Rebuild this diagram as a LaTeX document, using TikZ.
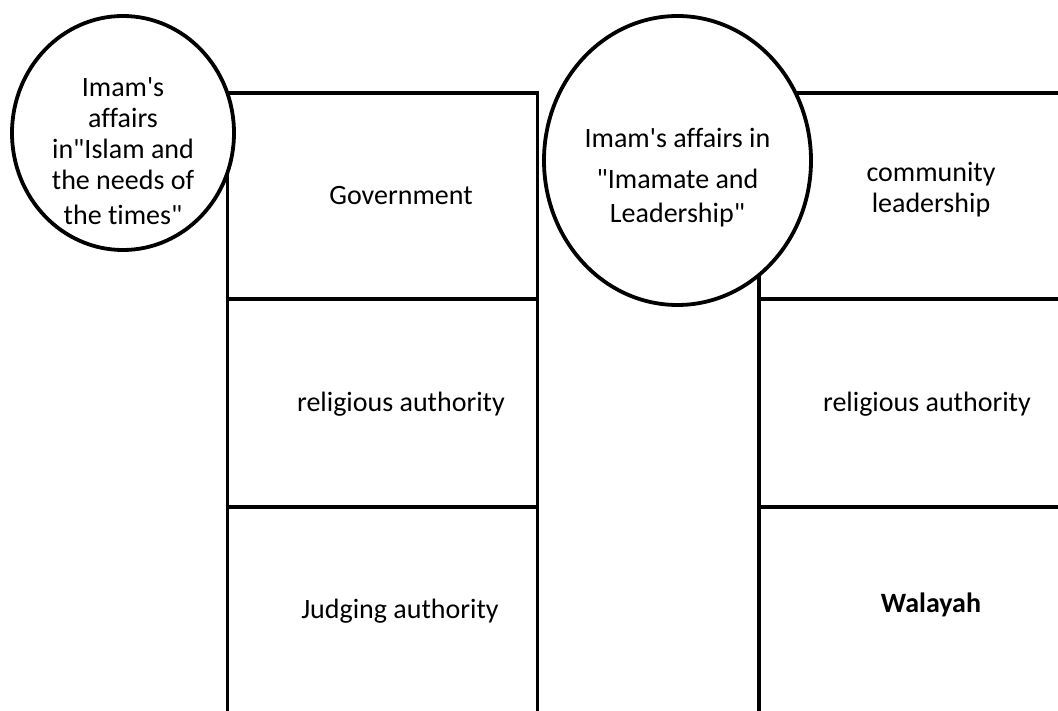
\documentclass[tikz,border=0pt]{standalone}
\usepackage{fontspec}
\setmainfont{Carlito}[Ligatures={NoCommon}]
\usetikzlibrary{shapes.geometric}
\begin{document}
\begin{tikzpicture}[x=1pt,y=-1pt,
  every node/.style={font=\fontsize{28}{31}\selectfont},
  lcell/.style={draw, line width=3.6pt, rectangle, minimum width=310pt, inner sep=0pt},
  rcell/.style={draw, line width=3.6pt, rectangle, minimum width=344pt, inner sep=0pt},
  bubble/.style={draw, line width=3.8pt, ellipse, fill=white, inner sep=0pt},
  btext/.style={align=center, inner sep=0pt}]
\useasboundingbox (0,0) rectangle (1058,711);
\clip (0,0) rectangle (1058,711);
% left column
\node[lcell, minimum height=206pt] (gov) at (382.5,196) {};
\node[lcell, minimum height=208pt] (rel1) at (382.5,403) {};
\node[lcell, minimum height=208pt] (jud) at (382.5,611) {};
\node[btext] (govt) at (401,196) {Government};
\node[btext] (rel1t) at (401,404) {religious authority};
\node[btext] (judt) at (400,611) {Judging authority};
% right column
\node[rcell, minimum height=206pt] (com) at (931,196) {};
\node[btext] (comt) at (931,190) {community\\leadership};
\node[rcell, minimum height=208pt] (rel2) at (931,403) {};
\node[btext] (rel2t) at (927,404) {religious authority};
\node[rcell, minimum height=208pt] (wal) at (931,611) {};
\node[btext] (walt) at (931,605) {\bfseries Walayah};
% circles
\node[bubble, minimum width=222pt, minimum height=234pt] (c1) at (123,133) {};
\node[btext] (c1t) at (123,151) {Imam\textquotesingle s\\affairs\\in\textquotedbl Islam and\\the needs of\\[4pt]the times\textquotedbl};
\node[bubble, minimum width=267pt, minimum height=289pt] (c2) at (677.5,160.5) {};
\node[btext] (c2t) at (677.5,178) {Imam\textquotesingle s affairs in\\[10pt]\textquotedbl Imamate and\\[3pt]Leadership\textquotedbl};
\end{tikzpicture}
\end{document}
